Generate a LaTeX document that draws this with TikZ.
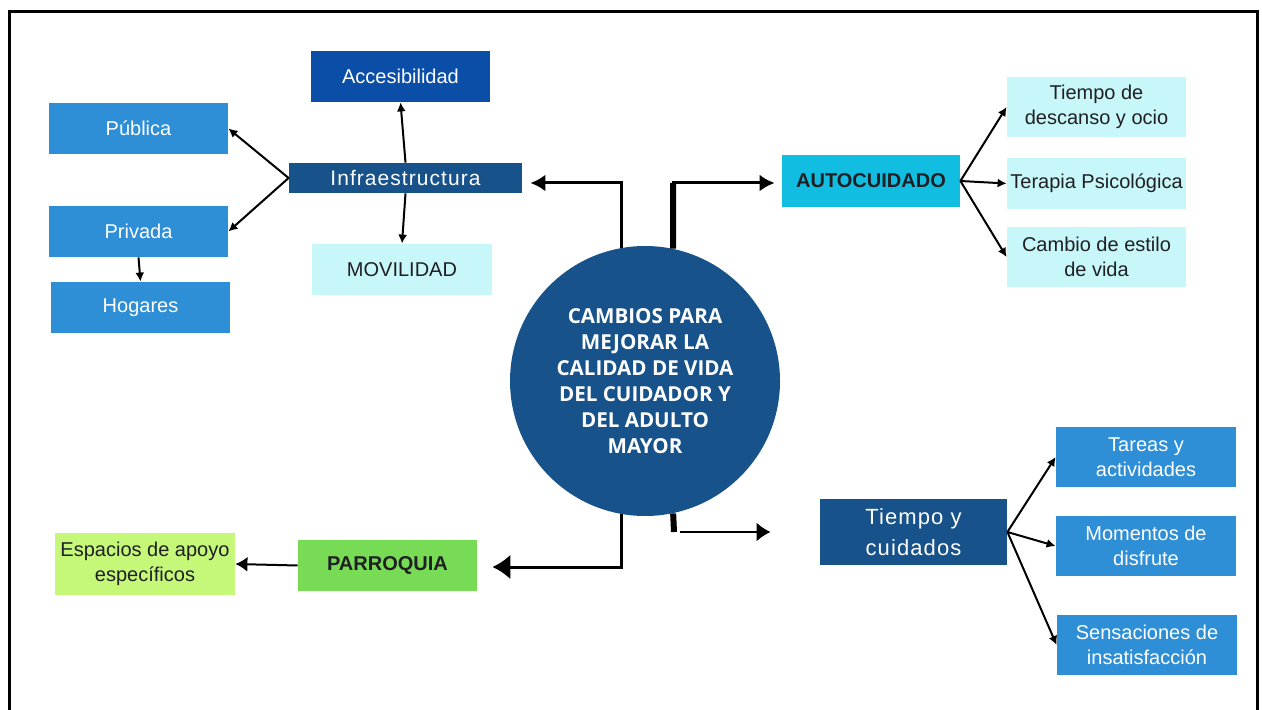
\documentclass[tikz,border=0pt]{standalone}
\usepackage{fontspec}
\setmainfont{Liberation Sans}
\newfontfamily\hubfont{Open Sans}
\newfontfamily\spacedfont[LetterSpace=5]{Liberation Sans}
\usetikzlibrary{arrows.meta}

\definecolor{hubBlue}{HTML}{17528A}
\definecolor{accesBlue}{HTML}{0B4EA8}
\definecolor{midBlue}{HTML}{2E8FD6}
\definecolor{paleCyan}{HTML}{C8F7F9}
\definecolor{autoCyan}{HTML}{11BDE0}
\definecolor{parishGreen}{HTML}{78DB56}
\definecolor{paleGreen}{HTML}{C5F779}
\definecolor{darkText}{HTML}{1F1F24}

\begin{document}
\begin{tikzpicture}[x = 0.5pt, y = -0.5pt]
	\tikzstyle{boxStyle} = [rectangle, inner sep = 1pt, align = center, minimum width = 89.5pt, minimum height = 25.5pt, font = \fontsize{10}{12.5}\selectfont]
	\tikzstyle{darkStyle} = [boxStyle, fill = hubBlue, text = white, font = \spacedfont\fontsize{10.5}{15.5}\selectfont]
	\tikzstyle{midStyle} = [boxStyle, fill = midBlue, text = white]
	\tikzstyle{lightStyle} = [boxStyle, fill = paleCyan, text = darkText]
	\tikzstyle{boldStyle} = [boxStyle, text = darkText, font = \bfseries\fontsize{10}{12.5}\selectfont]
	\tikzstyle{hubStyle} = [circle, fill = hubBlue, text = white, minimum size = 135pt, inner sep = 0pt, align = center, font = \hubfont\bfseries\fontsize{10.3}{13}\selectfont]
	\tikzstyle{smallArrow} = [line width = 1pt, -{Latex[length = 4.5pt, width = 4.5pt]}]
	\tikzstyle{midArrow} = [line width = 1pt, -{Latex[length = 7pt, width = 9.5pt]}]
	\tikzstyle{bigArrow} = [line width = 1.5pt, -{Latex[length = 7.5pt, width = 8.5pt]}]
	\useasboundingbox (0, 0) rectangle (1262, 710);
	\draw[line width = 1.5pt] (9, 712) -- (9, 12) -- (1257, 12) -- (1257, 712);
	% centre
	\node[hubStyle] (hub) at (645, 381) {CAMBIOS PARA\\MEJORAR LA\\CALIDAD DE VIDA\\DEL CUIDADOR Y\\DEL ADULTO\\MAYOR};
	% infraestructura
	\node[darkStyle, minimum width = 116.5pt, minimum height = 15pt] (infra) at (405.5, 178) {Infraestructura};
	\node[boxStyle, fill = accesBlue, text = white] (acces) at (400.5, 76.5) {Accesibilidad};
	\node[midStyle] (publica) at (138.5, 128.5) {Pública};
	\node[midStyle] (privada) at (138.5, 231.5) {Privada};
	\node[midStyle] (hogares) at (140.5, 307.5) {Hogares};
	\node[lightStyle, minimum width = 90pt] (movilidad) at (402, 269.5) {MOVILIDAD};
	% autocuidado
	\node[boldStyle, fill = autoCyan, minimum width = 89pt, minimum height = 26pt] (auto) at (871, 181) {AUTOCUIDADO};
	\node[lightStyle, minimum height = 30pt] (descanso) at (1096.5, 107) {Tiempo de\\descanso y ocio};
	\node[lightStyle] (terapia) at (1096.5, 183.5) {Terapia Psicológica};
	\node[lightStyle, minimum height = 30pt] (cambio) at (1096.5, 257) {Cambio de estilo\\de vida};
	% tiempo
	\node[darkStyle, minimum width = 93.5pt, minimum height = 33pt, font = \spacedfont\fontsize{11}{15.5}\selectfont] (tiempo) at (913.5, 532) {Tiempo y\\cuidados};
	\node[midStyle, minimum width = 90pt, minimum height = 30pt] (tareas) at (1146, 457) {Tareas y\\actividades};
	\node[midStyle, minimum width = 90pt, minimum height = 30pt] (momentos) at (1146, 546) {Momentos de\\disfrute};
	\node[midStyle, minimum width = 90pt, minimum height = 30pt] (sensaciones) at (1147, 645) {Sensaciones de\\insatisfacción};
	% parroquia
	\node[boldStyle, fill = parishGreen] (parroquia) at (387.5, 565.5) {PARROQUIA};
	\node[boxStyle, fill = paleGreen, text = darkText, minimum width = 90pt, minimum height = 31pt] (espacios) at (145, 564) {Espacios de apoyo\\específicos};
	\coordinate (topR) at (673, 183);
	\coordinate (botR) at (674, 532);
	\draw[bigArrow] (hub.100) |- ([shift = {(8, 5)}]infra.east);
	\draw[line width = 3pt] (hub.78) -- (topR);
	\draw[bigArrow] ([shift = {(-1, 0)}]topR) -- ([shift = {(-7, 2)}]auto.west);
	\draw[bigArrow, -{Latex[length = 9pt, width = 12.5pt]}] (hub.260) |- ([shift = {(15, 1.5)}]parroquia.east);
	\draw[line width = 3pt] (hub.282) -- (botR);
	\draw[midArrow] ([shift = {(6, 0)}]botR) -- ([shift = {(-49, 0)}]tiempo.west);
	\draw[smallArrow] (infra.west) -- (publica.east);
	\draw[smallArrow] (infra.west) -- (privada.east);
	\draw[smallArrow] (infra.north) -- (acces.south);
	\draw[smallArrow] (infra.south) -- (movilidad.north);
	\draw[smallArrow] (privada.south) -- (hogares.north);
	\draw[smallArrow] (auto.east) -- (descanso.west);
	\draw[smallArrow] (auto.east) -- (terapia.west);
	\draw[smallArrow] (auto.east) -- (cambio.west);
	\draw[smallArrow] (tiempo.east) -- (tareas.west);
	\draw[smallArrow] (tiempo.east) -- (momentos.west);
	\draw[smallArrow] (tiempo.east) -- (sensaciones.west);
	\draw[line width = 1pt, -{Latex[length = 6pt, width = 7.5pt]}] (parroquia.west) -- (espacios.east);
\end{tikzpicture}
\end{document}
